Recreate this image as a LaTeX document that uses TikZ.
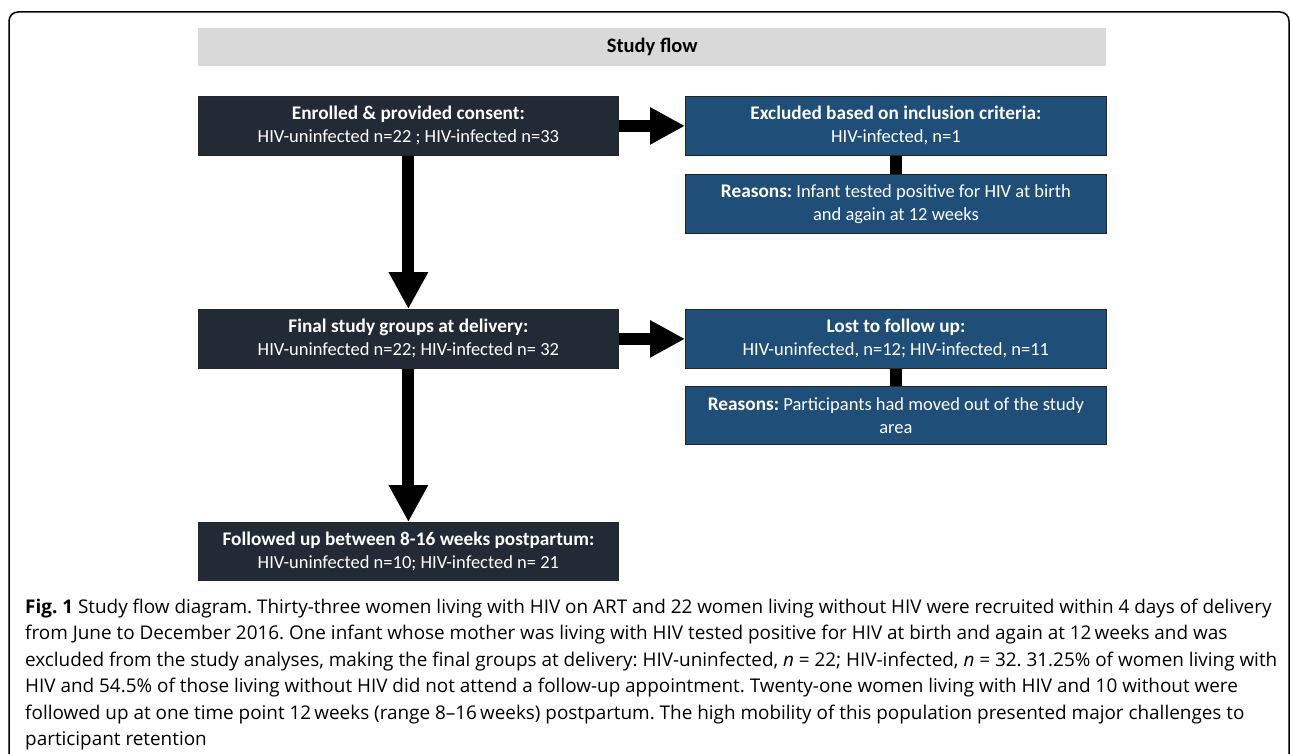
\documentclass[tikz,border=0pt]{standalone}
\usepackage{fontspec}
\setmainfont{Carlito}
\newfontfamily\capfont{Open Sans}
\usetikzlibrary{arrows.meta}
\definecolor{darkbox}{HTML}{222A35}
\definecolor{bluebox}{HTML}{1F4E79}
\definecolor{graybar}{HTML}{D9D9D9}
\newcommand\hd[1]{{\fontsize{19.3}{23}\selectfont\bfseries #1}}
\frenchspacing
\begin{document}
\begin{tikzpicture}[x=1pt,y=-1pt,
  box/.style={draw=black!85, line width=0.8pt, text=white, align=center,
    font=\fontsize{18.5}{23}\selectfont, inner sep=0pt, minimum height=59pt, anchor=north west},
  leftbox/.style={box, fill=darkbox, minimum width=420pt},
  rightbox/.style={box, fill=bluebox, minimum width=421pt},
  bigarrow/.style={line width=12pt, -{Triangle[width=37pt,length=37pt]}},
  sidearrow/.style={line width=12pt, -{Triangle[width=35pt,length=35pt]}},
  link/.style={line width=12pt},
  capline/.style={anchor=base west, inner sep=0pt, font=\capfont\fontsize{18.9}{22}\selectfont}]
\useasboundingbox (0,0) rectangle (1290,754);
% outer frame
\draw[line width=1.5pt, rounded corners=9pt] (9,760) -- (9,12) -- (1289,12) -- (1289,760);
% title bar
\node[fill=graybar, minimum width=908pt, minimum height=38pt, inner sep=0pt, anchor=north west,
  font=\bfseries\fontsize{20.5}{24}\selectfont] (title) at (198,28) {Study flow};
% boxes
\node[leftbox] (b1) at (198,96) {\hd{Enrolled \& provided consent:}\\HIV-uninfected n=22 ; HIV-infected n=33};
\node[rightbox] (b2) at (685,96) {\hd{Excluded based on inclusion criteria:}\\HIV-infected, n=1};
\node[rightbox] (b3) at (685,174) {\hd{Reasons:} Infant tested positive for HIV at birth\\and again at 12 weeks};
\node[leftbox] (b4) at (198,309) {\hd{Final study groups at delivery:}\\HIV-uninfected n=22; HIV-infected n= 32};
\node[rightbox] (b5) at (685,309) {\hd{Lost to follow up:}\\HIV-uninfected, n=12; HIV-infected, n=11};
\node[rightbox, minimum height=58pt] (b6) at (685,386) {\hd{Reasons:} Participants had moved out of the study\\area};
\node[leftbox, minimum height=58pt] (b7) at (198,522) {\hd{Followed up between 8-16 weeks postpartum:}\\HIV-uninfected n=10; HIV-infected n= 21};
% connectors
\draw[sidearrow] (b1.east) -- (b2.west);
\draw[sidearrow] (b4.east) -- (b5.west);
\draw[link] (b2.south) -- (b3.north);
\draw[link] (b5.south) -- (b6.north);
\draw[bigarrow] (b1.south) -- (b4.north);
\draw[bigarrow] (b4.south) -- (b7.north);
% caption
\node[capline] (c1) at (25,613) {\textbf{Fig. 1} Study flow diagram. Thirty-three women living with HIV on ART and 22 women living without HIV were recruited within 4 days of delivery};
\node[capline] (c2) at (25,639.5) {from June to December 2016. One infant whose mother was living with HIV tested positive for HIV at birth and again at 12\,weeks and was};
\node[capline] (c3) at (25,666) {excluded from the study analyses, making the final groups at delivery: HIV-uninfected, \textit{n} = 22; HIV-infected, \textit{n} = 32. 31.25\% of women living with};
\node[capline] (c4) at (25,692.5) {HIV and 54.5\% of those living without HIV did not attend a follow-up appointment. Twenty-one women living with HIV and 10 without were};
\node[capline] (c5) at (25,719) {followed up at one time point 12\,weeks (range 8–16\,weeks) postpartum. The high mobility of this population presented major challenges to};
\node[capline] (c6) at (25,745.5) {participant retention};
\end{tikzpicture}
\end{document}
